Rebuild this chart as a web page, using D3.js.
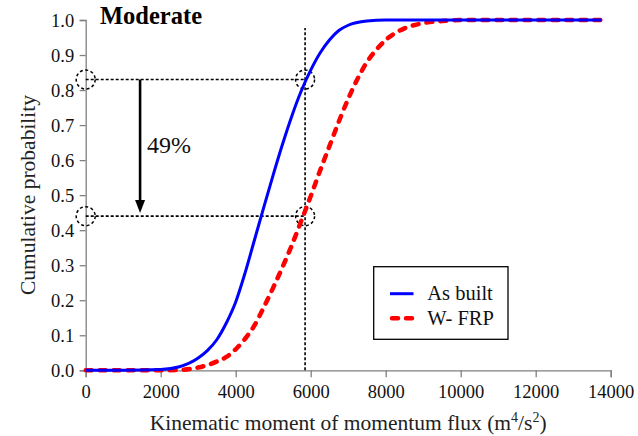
<!DOCTYPE html>
<html><head><meta charset="utf-8">
<script src="https://cdn.jsdelivr.net/npm/d3@7"></script>
<style>body{margin:0;background:#fff;}</style></head>
<body><svg id="c" width="638" height="436"></svg>
<script>
const xTicks = [0,2000,4000,6000,8000,10000,12000,14000];
const yTicks = [0,0.1,0.2,0.3,0.4,0.5,0.6,0.7,0.8,0.9,1.0];
const asBuiltX = [0,1000,2000,2500,3000,3250,3500,3750,4000,4250,4500,4750,5000,5250,5500,5750,6000,6250,6500,6750,7000,7500,8000,13750];
const asBuiltY = [0,0,0.002,0.01,0.035,0.057,0.088,0.135,0.195,0.278,0.372,0.466,0.558,0.646,0.727,0.798,0.857,0.906,0.943,0.97,0.985,0.997,1.0,1.0];
const frpX = [0,2000,2500,3000,3500,3750,4000,4250,4500,4750,5000,5250,5500,5750,6000,6250,6500,6750,7000,7250,7500,7750,8000,8500,9000,9500,10000,13750];
const frpY = [0,0,0.001,0.008,0.025,0.038,0.06,0.09,0.128,0.18,0.236,0.295,0.358,0.427,0.497,0.57,0.64,0.71,0.775,0.832,0.88,0.915,0.943,0.976,0.991,0.997,1.0,1.0];
const refX = 5850;
const refHigh = 0.83, refLow = 0.44;
const arrowX = 1450;
const seriesNames = ["As built","W- FRP"];

const FF = '"Liberation Serif"';
const svg = d3.select("#c");
const x = d3.scaleLinear().domain([0,14000]).range([85.7,610.7]);
const y = d3.scaleLinear().domain([0,1]).range([370.3,20]);
const axisColor = "#808080";

const gx = svg.append("g").attr("transform",`translate(0,${y(0)})`)
  .call(d3.axisBottom(x).tickValues(xTicks).tickFormat(d3.format("d")).tickSizeOuter(0).tickSize(7).tickPadding(8));
const gy = svg.append("g").attr("transform",`translate(${x(0)},0)`)
  .call(d3.axisLeft(y).tickValues(yTicks).tickFormat(d3.format(".1f")).tickSizeOuter(0).tickSize(6).tickPadding(5.5));
[gx,gy].forEach(g=>{
  g.attr("font-family",null).attr("font-size",null);
  g.select(".domain").attr("stroke",axisColor).attr("stroke-width",1.3);
  g.selectAll(".tick line").attr("stroke",axisColor).attr("stroke-width",1.3);
  g.selectAll(".tick text").attr("fill","#111").style("font-family",FF).style("font-size","18.5px");
});
gy.selectAll(".tick text").attr("dy","0.34em");

const xt = svg.append("text").attr("x",(x(0)+x(14000))/2).attr("y",430).attr("text-anchor","middle")
  .style("font-family",FF).style("font-size","21.5px").attr("fill","#222");
xt.append("tspan").text("Kinematic moment of momentum flux (m");
xt.append("tspan").text("4").attr("dy","-8").style("font-size","14px");
xt.append("tspan").text("/s").attr("dy","8");
xt.append("tspan").text("2").attr("dy","-8").style("font-size","14px");
xt.append("tspan").text(")").attr("dy","8");

svg.append("text").attr("transform",`translate(35,195) rotate(-90)`).attr("text-anchor","middle")
  .style("font-family",FF).style("font-size","21.5px").attr("fill","#222").text("Cumulative probability");

svg.append("text").attr("x",100).attr("y",24).style("font-family",FF).style("font-size","24.5px").style("font-weight","bold").text("Moderate");

const dot = {stroke:"#000","stroke-width":1.6,"stroke-dasharray":"3,2"};
function ln(x1,y1,x2,y2){ const l=svg.append("line").attr("x1",x1).attr("y1",y1).attr("x2",x2).attr("y2",y2).attr("fill","none"); for(const k in dot) l.attr(k,dot[k]); return l;}
ln(x(refX),y(0),x(refX),y(0.977));
ln(x(0),y(refHigh),x(refX),y(refHigh));
ln(x(0),y(refLow),x(refX),y(refLow));
[[0,refHigh],[refX,refHigh],[0,refLow],[refX,refLow]].forEach(p=>{
  svg.append("circle").attr("cx",x(p[0])).attr("cy",y(p[1])).attr("r",9.5).attr("fill","none")
    .attr("stroke","#000").attr("stroke-width",1.5).attr("stroke-dasharray","3,2.5");
});

const line = d3.line().x(d=>x(d[0])).y(d=>y(d[1])).curve(d3.curveMonotoneX);
const frp = frpX.map((v,i)=>[v,frpY[i]]);
const ab = asBuiltX.map((v,i)=>[v,asBuiltY[i]]);
svg.append("path").datum(frp).attr("d",line).attr("fill","none").attr("stroke","#ff0000")
  .attr("stroke-width",4.5).attr("stroke-dasharray","6,8").attr("stroke-linecap","round");
svg.append("path").datum(ab).attr("d",line).attr("fill","none").attr("stroke","#0000ff").attr("stroke-width",3);

svg.append("line").attr("x1",x(arrowX)).attr("y1",y(refHigh)).attr("x2",x(arrowX)).attr("y2",y(0.449)-12)
  .attr("stroke","#000").attr("stroke-width",2.6);
svg.append("path").attr("d",`M${x(arrowX)-5},${y(0.449)-13} L${x(arrowX)+5},${y(0.449)-13} L${x(arrowX)},${y(0.449)} Z`).attr("fill","#000");
svg.append("text").attr("x",147).attr("y",153).style("font-family",FF).style("font-size","24px").attr("fill","#111").text("49%");

const lg = svg.append("g");
lg.append("rect").attr("x",373.7).attr("y",266.7).attr("width",134.3).attr("height",72.6).attr("fill","#fff").attr("stroke","#000").attr("stroke-width",1.3);
lg.append("line").attr("x1",390).attr("x2",413.5).attr("y1",293.7).attr("y2",293.7).attr("stroke","#0000ff").attr("stroke-width",3);
lg.append("line").attr("x1",392).attr("x2",412).attr("y1",318.3).attr("y2",318.3).attr("stroke","#ff0000").attr("stroke-width",4.5)
  .attr("stroke-dasharray","6,8").attr("stroke-linecap","round");
lg.append("text").attr("x",427.3).attr("y",300).style("font-family",FF).style("font-size","20.5px").attr("fill","#111").text(seriesNames[0]);
lg.append("text").attr("x",427.3).attr("y",325).style("font-family",FF).style("font-size","20.5px").attr("fill","#111").text(seriesNames[1]);
</script></body></html>
